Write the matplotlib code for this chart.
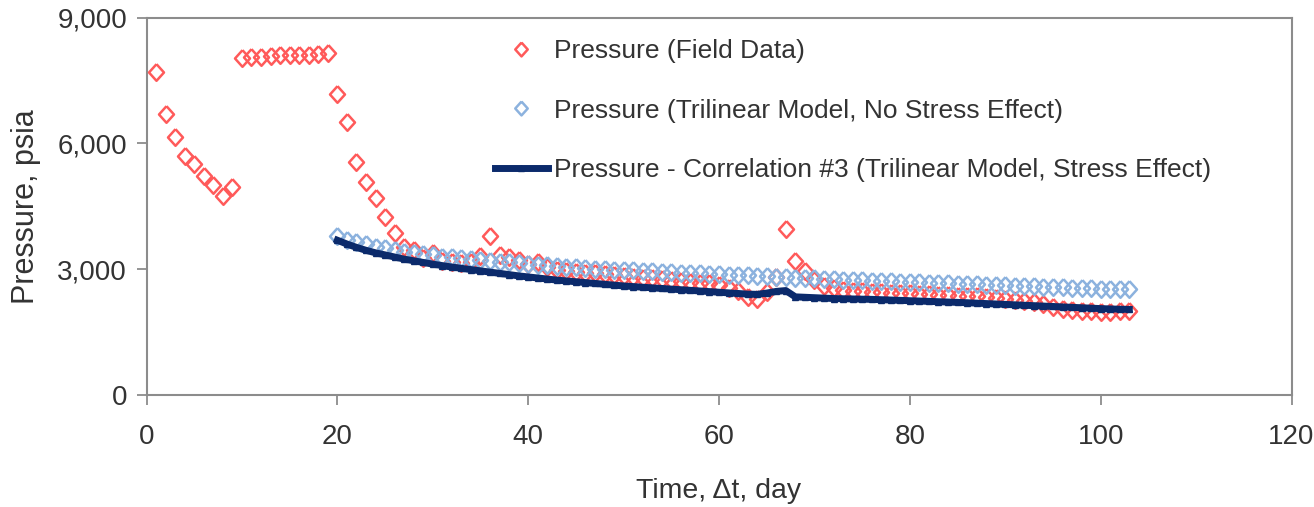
import matplotlib
matplotlib.use("Agg")
import matplotlib.pyplot as plt
from matplotlib.ticker import FuncFormatter

plt.rcParams['font.family'] = ['Liberation Sans', 'DejaVu Sans']

# ---------------- data ----------------
field_days = list(range(1, 104))
field_pressure = [
    7700, 6700, 6150, 5700, 5500, 5220, 5000, 4740, 4960,           # 1-9
    8030, 8070, 8070, 8080, 8100, 8100, 8110, 8110, 8140, 8160,     # 10-19
    7170, 6510, 5560, 5080, 4700, 4240, 3860, 3520, 3450, 3270,     # 20-29
    3380, 3200, 3170, 3150, 3170, 3320, 3780, 3330, 3280, 3220,     # 30-39
    3130, 3160, 3050, 2980, 2960, 2940, 2920, 2900, 2880, 2860,     # 40-49
    2840, 2820, 2800, 2780, 2760, 2740, 2720, 2700, 2680, 2660,     # 50-59
    2620, 2560, 2480, 2330, 2300, 2450, 2820, 3960, 3200, 2960,     # 60-69
    2730, 2600, 2550, 2500, 2480, 2470, 2460, 2450, 2440, 2430,     # 70-79
    2420, 2410, 2400, 2390, 2380, 2370, 2360, 2350, 2330, 2310,     # 80-89
    2290, 2270, 2240, 2210, 2170, 2090, 2050, 2020, 2000, 2000,     # 90-99
    1990, 1990, 2000, 2010,                                         # 100-103
]

model_days = list(range(20, 104))
no_stress_pressure = [
    3790, 3700, 3640, 3590, 3540, 3500, 3460, 3420, 3390, 3360,     # 20-29
    3330, 3300, 3280, 3260, 3240, 3220, 3200, 3180, 3160, 3140,     # 30-39
    3120, 3105, 3090, 3075, 3060, 3045, 3030, 3015, 3000, 2990,     # 40-49
    2980, 2970, 2960, 2950, 2940, 2930, 2920, 2910, 2900, 2890,     # 50-59
    2880, 2870, 2860, 2850, 2840, 2830, 2820, 2810, 2800, 2790,     # 60-69
    2780, 2770, 2760, 2750, 2740, 2732, 2724, 2716, 2708, 2700,     # 70-79
    2692, 2684, 2676, 2668, 2660, 2652, 2644, 2636, 2628, 2620,     # 80-89
    2612, 2604, 2596, 2588, 2580, 2572, 2565, 2558, 2551, 2544,     # 90-99
    2538, 2532, 2526, 2520,                                         # 100-103
]
stress_pressure = [
    3690, 3600, 3520, 3450, 3390, 3340, 3290, 3240, 3200, 3160,     # 20-29
    3120, 3085, 3050, 3020, 2990, 2960, 2930, 2900, 2870, 2840,     # 30-39
    2815, 2790, 2765, 2740, 2720, 2700, 2680, 2660, 2640, 2620,     # 40-49
    2600, 2585, 2570, 2555, 2540, 2525, 2510, 2495, 2480, 2465,     # 50-59
    2450, 2435, 2420, 2405, 2400, 2430, 2470, 2490, 2340, 2330,     # 60-69
    2320, 2310, 2300, 2295, 2290, 2285, 2280, 2272, 2264, 2256,     # 70-79
    2248, 2240, 2232, 2224, 2216, 2208, 2200, 2190, 2180, 2170,     # 80-89
    2160, 2150, 2140, 2130, 2120, 2110, 2100, 2090, 2080, 2070,     # 90-99
    2060, 2052, 2045, 2040,                                         # 100-103
]

x_ticks = [0, 20, 40, 60, 80, 100, 120]
y_ticks = [0, 3000, 6000, 9000]

labels = ["Pressure (Field Data)",
          "Pressure (Trilinear Model, No Stress Effect)",
          "Pressure - Correlation #3 (Trilinear Model, Stress Effect)"]

# ---------------- figure ----------------
fig = plt.figure(figsize=(13.14, 5.07), dpi=100)
ax = fig.add_axes([146.5 / 1314, 1 - 395 / 507, (1291.5 - 146.5) / 1314, (395 - 17.5) / 507])

red = '#FF5A5A'
lblue = '#8CB2DE'
navy = '#0B2A6B'
diamond = [(0, 1), (0.9, 0), (0, -1), (-0.9, 0), (0, 1)]

ax.plot(field_days, field_pressure, linestyle='none', marker=diamond, ms=12,
        mfc='none', mec=red, mew=1.8, label=labels[0], zorder=3)
ax.plot(model_days, no_stress_pressure, linestyle='none', marker=diamond, ms=12,
        mfc='none', mec=lblue, mew=1.8, label=labels[1], zorder=4)
ax.plot(model_days, stress_pressure, color=navy, lw=5, marker='^', ms=4,
        mfc=navy, mec=navy, label=labels[2], zorder=5)

ax.set_xlim(0, 120)
ax.set_ylim(0, 9000)
ax.set_xticks(x_ticks)
ax.set_yticks(y_ticks)
ax.yaxis.set_major_formatter(FuncFormatter(lambda v, p: f"{v:,.0f}"))

for s in ax.spines.values():
    s.set_color('#8C8C8C')
    s.set_linewidth(1.5)

ax.tick_params(axis='both', colors='#8C8C8C', length=7, width=1.3,
               labelsize=20, labelcolor='#333333')
ax.tick_params(axis='x', pad=14)
ax.tick_params(axis='y', pad=7)

ax.set_xlabel("Time, Δt, day", fontsize=20.5, color='#333333', labelpad=20)
ax.set_ylabel("Pressure, psia", fontsize=22, color='#333333', labelpad=12)

leg = ax.legend(loc='upper left', bbox_to_anchor=(495 / 1314, 1 - 39 / 507),
                bbox_transform=fig.transFigure, frameon=False, fontsize=19,
                labelspacing=1.35, handlelength=2.0, handletextpad=0.25,
                borderpad=0, borderaxespad=0, numpoints=1)
for t in leg.get_texts():
    t.set_color('#333333')
for h in leg.legend_handles[:2]:
    h.set_markersize(10)

fig.savefig("out.png", dpi=100)
